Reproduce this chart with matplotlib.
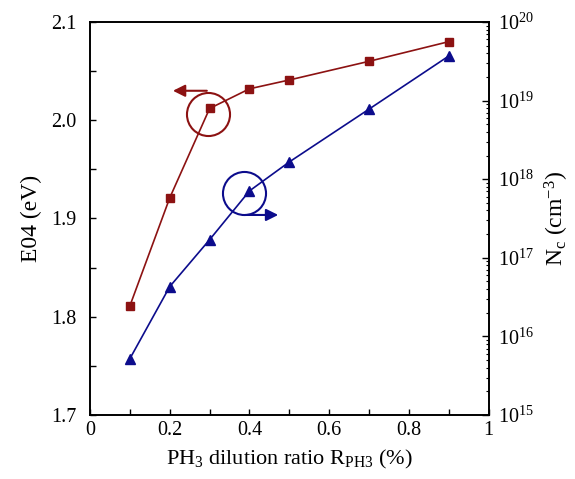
import matplotlib
matplotlib.use('Agg')
from matplotlib import pyplot as plt
from matplotlib.ticker import MultipleLocator, LogLocator, NullFormatter
import numpy as np

plt.rcParams['font.family'] = ['Liberation Serif', 'DejaVu Serif']
plt.rcParams['mathtext.fontset'] = 'custom'
plt.rcParams['mathtext.rm'] = 'Liberation Serif'
plt.rcParams['mathtext.it'] = 'Liberation Serif:italic'

ratio = [0.1, 0.2, 0.3, 0.4, 0.5, 0.7, 0.9]
e04 = [1.811, 1.921, 2.012, 2.032, 2.041, 2.060, 2.080]
nc = [5.2e15, 4.3e16, 1.7e17, 7.1e17, 1.66e18, 7.8e18, 3.7e19]

red = '#8c1212'
blue = '#0c0c8c'

fig = plt.figure(figsize=(5.75, 4.79), dpi=100)
ax1 = fig.add_axes([0.1565, 0.1336, 0.6935, 0.8205])
ax2 = ax1.twinx()

ax1.plot(ratio, e04, color=red, marker='s', markersize=6, linewidth=1.2)
ax2.plot(ratio, nc, color=blue, marker='^', markersize=7, linewidth=1.2)

ax1.set_xlim(0, 1)
ax1.set_ylim(1.7, 2.1)
ax2.set_yscale('log')
ax2.set_ylim(1e15, 1e20)

# circles + arrows pointing to the axes
ax1.plot(0.296, 2.006, marker='o', markersize=31, mfc='none', mec=red, mew=1.5)
ax1.annotate('', xy=(0.208, 2.030), xytext=(0.293, 2.030),
             arrowprops=dict(arrowstyle='-|>', color=red, lw=1.5, mutation_scale=18, shrinkA=0, shrinkB=0))
ax1.plot(0.386, 1.926, marker='o', markersize=31, mfc='none', mec=blue, mew=1.5)
ax1.annotate('', xy=(0.472, 1.9036), xytext=(0.39, 1.9036),
             arrowprops=dict(arrowstyle='-|>', color=blue, lw=1.5, mutation_scale=18, shrinkA=0, shrinkB=0))

ax1.xaxis.set_minor_locator(MultipleLocator(0.1))
ax1.yaxis.set_major_locator(MultipleLocator(0.1))
ax1.yaxis.set_minor_locator(MultipleLocator(0.05))
ax1.set_xticks([0, 0.2, 0.4, 0.6, 0.8, 1.0])
ax1.set_xticklabels(['0', '0.2', '0.4', '0.6', '0.8', '1'])
ax1.tick_params(which='both', direction='in', top=False, right=False, labelsize=14.5)
ax1.tick_params(which='both', length=4, width=1)
ax1.tick_params(axis='x', pad=4)
ax1.tick_params(axis='y', pad=10)

ax2.yaxis.set_major_locator(LogLocator(base=10, numticks=10))
ax2.yaxis.set_minor_locator(LogLocator(base=10, subs=np.arange(2, 10), numticks=10))
ax2.yaxis.set_minor_formatter(NullFormatter())
ax2.tick_params(which='both', direction='in', labelsize=14.5, pad=7)
ax2.tick_params(which='major', length=5, width=1)
ax2.tick_params(which='minor', length=2.5, width=0.8)

for ax in (ax1, ax2):
    for s in ax.spines.values():
        s.set_linewidth(1.2)

ax1.set_xlabel(r'PH$_3$ dilution ratio R$_{\mathrm{PH3}}$ (%)', fontsize=16, labelpad=6)
ax1.set_ylabel('E04 (eV)', fontsize=17, labelpad=6)
ax2.set_ylabel(r'N$_\mathrm{c}$ (cm$^{-3}$)', fontsize=17, labelpad=6)

fig.savefig('out.png', dpi=100)
